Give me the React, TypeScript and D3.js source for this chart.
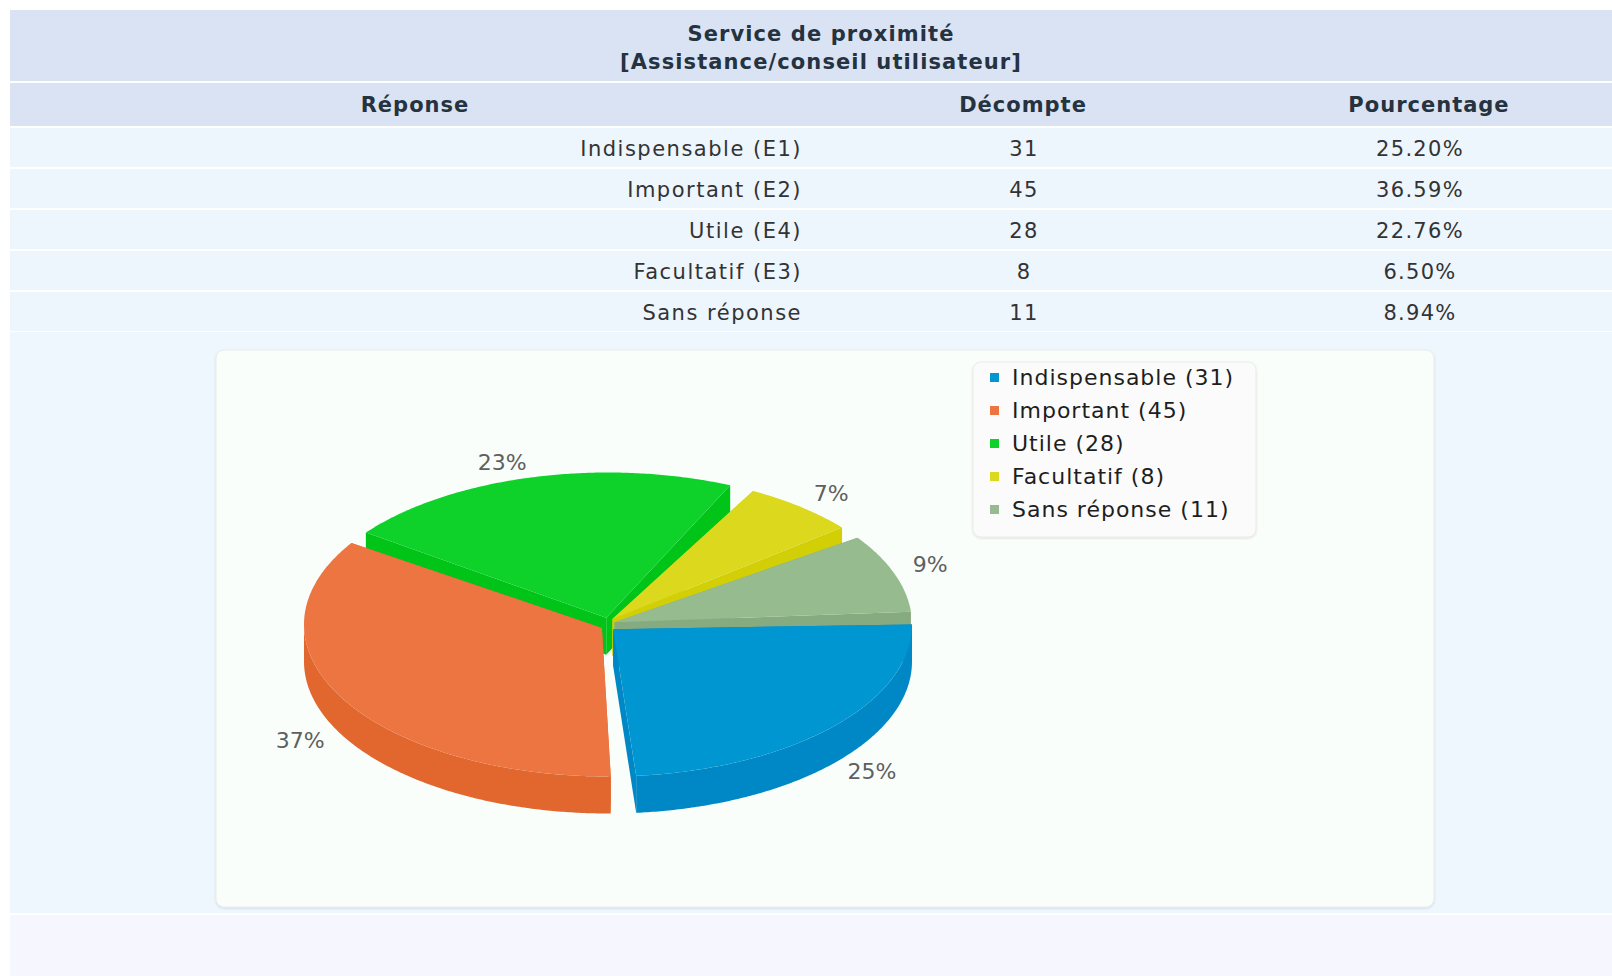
import React from "react";
import * as d3 from "d3";

// ---------- data ----------
const titleLines = ["Service de proximité", "[Assistance/conseil utilisateur]"];
const columnHeaders = ["Réponse", "Décompte", "Pourcentage"];
const answers = ["Indispensable (E1)", "Important (E2)", "Utile (E4)", "Facultatif (E3)", "Sans réponse"];
const counts = [31, 45, 28, 8, 11];
const percentages = ["25.20%", "36.59%", "22.76%", "6.50%", "8.94%"];
const legendNames = ["Indispensable", "Important", "Utile", "Facultatif", "Sans réponse"];
const topColors = ["#0096d2", "#ec7541", "#0ed22a", "#dbd81e", "#95bb8f"];
const sideColors = ["#0088c6", "#e1672f", "#00c418", "#d2cf06", "#87ab80"];

// ---------- layout ----------
const W = 1612;
const H = 976;
const FONT = "'DejaVu Sans', Verdana, sans-serif";
const LEFT = 10;
const ROW0 = 128;
const PITCH = 41;
const colX = [415, 1023, 1429];
const dataX = [802, 1024, 1420];

const CX = 608, CY = 624.5, R = 304, RY = 152, DEPTH = 37, EXPLODE = 7;
const PAD_DEG = 4.8;
const rad = Math.PI / 180;

type Slice = {
  i: number;
  a0: number;
  a1: number;
  mid: number;
  vx: number;
  vy: number;
};

function buildSlices(): Slice[] {
  const pie = d3
    .pie<number>()
    .sort(null)
    .startAngle(Math.PI / 2)
    .endAngle(Math.PI / 2 + 2 * Math.PI)
    .padAngle(PAD_DEG * rad);
  return pie(counts).map((a, i) => {
    const a0 = a.startAngle - Math.PI / 2;
    const a1 = a.endAngle - a.padAngle - Math.PI / 2;
    const mid = (a0 + a1) / 2;
    return {
      i,
      a0,
      a1,
      mid,
      vx: CX + EXPLODE * Math.cos(mid),
      vy: CY + EXPLODE * Math.sin(mid),
    };
  });
}

const line = d3.line<[number, number]>();
const pt = (t: number, dy = 0): [number, number] => [CX + R * Math.cos(t), CY + RY * Math.sin(t) + dy];

function angles(s: Slice): number[] {
  return d3.range(s.a0, s.a1, 0.5 * rad).concat([s.a1]);
}

function SliceShape({ s }: { s: Slice }) {
  const top: [number, number][] = [[s.vx, s.vy], ...angles(s).map((t) => pt(t))];
  const edge = (t: number): [number, number][] => [
    [s.vx, s.vy],
    pt(t),
    pt(t, DEPTH),
    [s.vx, s.vy + DEPTH],
  ];
  const runs: number[][] = [];
  let cur: number[] = [];
  angles(s).forEach((t) => {
    if (Math.sin(t) >= -0.001) cur.push(t);
    else if (cur.length) {
      runs.push(cur);
      cur = [];
    }
  });
  if (cur.length) runs.push(cur);
  const walls = runs
    .filter((r) => r.length > 1)
    .map((r) => [...r.map((t) => pt(t)), ...r.slice().reverse().map((t) => pt(t, DEPTH))]);
  return (
    <g>
      <path d={line(edge(s.a0)) + "Z"} fill={sideColors[s.i]} />
      <path d={line(edge(s.a1)) + "Z"} fill={sideColors[s.i]} />
      {walls.map((w, k) => (
        <path key={k} d={line(w) + "Z"} fill={sideColors[s.i]} />
      ))}
      <path d={line(top) + "Z"} fill={topColors[s.i]} />
    </g>
  );
}

export default function App() {
  const total = d3.sum(counts);
  const slices = buildSlices();
  const order = slices.slice().sort((a, b) => Math.sin(a.mid) - Math.sin(b.mid));

  const labels = slices.map((s) => {
    const c = Math.cos(s.mid);
    const sn = Math.sin(s.mid);
    const x = CX + c * (R + 20);
    const y = CY + sn * (RY + 10) + (sn > 0 ? DEPTH + 8 : 2);
    return {
      x,
      y,
      anchor: c >= 0 ? "start" : "end",
      text: Math.round((counts[s.i] / total) * 100) + "%",
    };
  });

  const chartTop = ROW0 + answers.length * PITCH;

  return (
    <svg
      width={W}
      height={H}
      style={{ position: "absolute", left: 0, top: 0, display: "block" }}
      fontFamily={FONT}
    >
      <defs>
        <filter id="sh" x="-5%" y="-5%" width="110%" height="115%">
          <feDropShadow dx="0" dy="1" stdDeviation="1.2" floodColor="#000" floodOpacity="0.12" />
        </filter>
      </defs>
      <rect x={0} y={0} width={W} height={H} fill="#ffffff" />
      {/* title band */}
      <rect x={LEFT} y={10} width={W - LEFT} height={71} fill="#dae3f3" />
      {titleLines.map((t, k) => (
        <text
          key={k}
          x={821}
          y={41 + k * 28}
          textAnchor="middle"
          fontSize={21}
          fontWeight="bold"
          letterSpacing={1.1}
          fill="#253240"
        >
          {t}
        </text>
      ))}
      {/* header */}
      <rect x={LEFT} y={83} width={W - LEFT} height={43} fill="#dae3f3" />
      {columnHeaders.map((h, k) => (
        <text
          key={k}
          x={colX[k]}
          y={112}
          textAnchor="middle"
          fontSize={21}
          fontWeight="bold"
          letterSpacing={1}
          fill="#253240"
        >
          {h}
        </text>
      ))}
      {/* data rows */}
      {answers.map((a, i) => {
        const y = ROW0 + i * PITCH;
        return (
          <g key={i}>
            <rect x={LEFT} y={y} width={W - LEFT} height={PITCH - 2} fill="#edf5fd" />
            <text x={dataX[0]} y={y + 28} textAnchor="end" fontSize={21} letterSpacing={1.5} fill="#333">
              {a}
            </text>
            <text x={dataX[1]} y={y + 28} textAnchor="middle" fontSize={21} letterSpacing={1.3} fill="#333">
              {counts[i]}
            </text>
            <text x={dataX[2]} y={y + 28} textAnchor="middle" fontSize={21} letterSpacing={1.3} fill="#333">
              {percentages[i]}
            </text>
          </g>
        );
      })}
      {/* chart row */}
      <rect x={LEFT} y={chartTop - 1} width={W - LEFT} height={914 - chartTop} fill="#eef6fe" />
      <rect x={LEFT} y={915} width={W - LEFT} height={H - 915} fill="#f5f6fe" />
      {/* chart panel */}
      <rect x={216} y={350} width={1218} height={557} rx={8} fill="#f9fefa" stroke="#e9ecea" filter="url(#sh)" />

      {/* pie */}
      {order.map((s) => (
        <SliceShape key={s.i} s={s} />
      ))}
      {labels.map((l, k) => (
        <text key={k} x={l.x} y={l.y} textAnchor={l.anchor as any} fontSize={22} fill="#5f5f5f">
          {l.text}
        </text>
      ))}

      {/* legend */}
      <rect x={973} y={362} width={283} height={175} rx={8} fill="#fbfbfb" stroke="#ebebeb" filter="url(#sh)" />
      {legendNames.map((n, i) => {
        const cy = 377 + i * 33;
        return (
          <g key={i}>
            <rect x={990} y={cy - 4} width={9} height={9} fill={topColors[i]} />
            <text x={1012} y={cy + 8} fontSize={22} letterSpacing={1} fill="#1e1e1e">
              {`${n} (${counts[i]})`}
            </text>
          </g>
        );
      })}
    </svg>
  );
}
